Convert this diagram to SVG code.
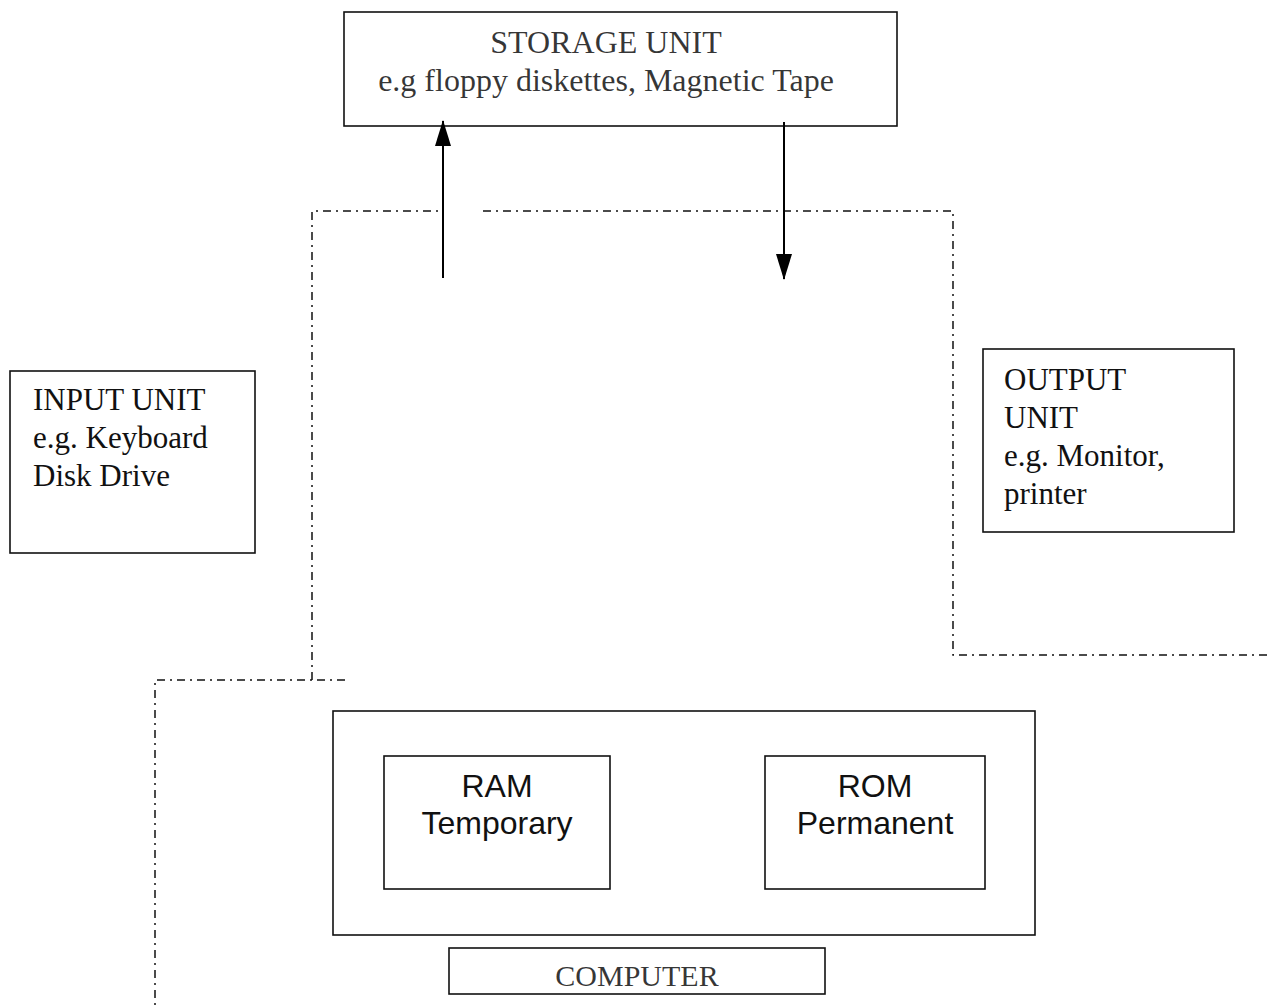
<svg xmlns="http://www.w3.org/2000/svg" width="1275" height="1008" viewBox="0 0 1275 1008">
  <defs>
    <marker id="arrowhead" viewBox="0 0 26 18" refX="25" refY="9" markerWidth="26" markerHeight="18" markerUnits="userSpaceOnUse" orient="auto">
      <path d="M0,1 L26,9 L0,17 Z" fill="#000"/>
    </marker>
    <style>
      .box { fill: #fff; stroke: #111; stroke-width: 1.6; }
      .serif { font-family: "Liberation Serif", "Times New Roman", serif; fill: #111; }
      .sans { font-family: "Liberation Sans", Arial, sans-serif; fill: #111; }
      .boundary { fill: none; stroke: #111; stroke-width: 1.5; stroke-dasharray: 8 5 2 5; }
      .flow { fill: none; stroke: #000; stroke-width: 2; }
    </style>
  </defs>

  <rect width="1275" height="1008" fill="#fff"/>

  <!-- dash-dot boundaries -->
  <g id="boundaries">
    <polyline class="boundary" points="312,680 312,211 440,211"/>
    <polyline class="boundary" points="483,211 953,211 953,655 1272,655"/>
    <polyline class="boundary" points="345,680 155,680 155,1008"/>
  </g>

  <!-- storage unit -->
  <g id="storage-unit">
    <rect class="box" x="344" y="12" width="553" height="114"/>
    <text class="serif" x="606" y="53" font-size="32" text-anchor="middle" fill-opacity="0.85">STORAGE UNIT</text>
    <text class="serif" x="606" y="91" font-size="32" text-anchor="middle" fill-opacity="0.85">e.g floppy diskettes, Magnetic Tape</text>
  </g>

  <!-- input unit -->
  <g id="input-unit">
    <rect class="box" x="10" y="371" width="245" height="182"/>
    <text class="serif" x="33" y="410" font-size="31">INPUT UNIT</text>
    <text class="serif" x="33" y="448" font-size="31">e.g. Keyboard</text>
    <text class="serif" x="33" y="486" font-size="31">Disk Drive</text>
  </g>

  <!-- output unit -->
  <g id="output-unit">
    <rect class="box" x="983" y="349" width="251" height="183"/>
    <text class="serif" x="1004" y="390" font-size="31">OUTPUT</text>
    <text class="serif" x="1004" y="428" font-size="31">UNIT</text>
    <text class="serif" x="1004" y="466" font-size="31">e.g. Monitor,</text>
    <text class="serif" x="1004" y="504" font-size="31">printer</text>
  </g>

  <!-- memory block -->
  <g id="memory">
    <rect class="box" x="333" y="711" width="702" height="224"/>
  </g>
  <g id="ram">
    <rect class="box" x="384" y="756" width="226" height="133"/>
    <text class="sans" x="497" y="797" font-size="32" text-anchor="middle">RAM</text>
    <text class="sans" x="497" y="834" font-size="32" text-anchor="middle">Temporary</text>
  </g>
  <g id="rom">
    <rect class="box" x="765" y="756" width="220" height="133"/>
    <text class="sans" x="875" y="797" font-size="32" text-anchor="middle">ROM</text>
    <text class="sans" x="875" y="834" font-size="32" text-anchor="middle">Permanent</text>
  </g>

  <!-- computer caption -->
  <g id="computer-label">
    <rect class="box" x="449" y="948" width="376" height="46"/>
    <text class="serif" x="637" y="986" font-size="30" text-anchor="middle" fill-opacity="0.85">COMPUTER</text>
  </g>

  <!-- transfer arrows to and from storage -->
  <g id="connectors">
    <line class="flow" x1="443" y1="278" x2="443" y2="121" marker-end="url(#arrowhead)"/>
    <line class="flow" x1="784" y1="122" x2="784" y2="279" marker-end="url(#arrowhead)"/>
  </g>
</svg>
